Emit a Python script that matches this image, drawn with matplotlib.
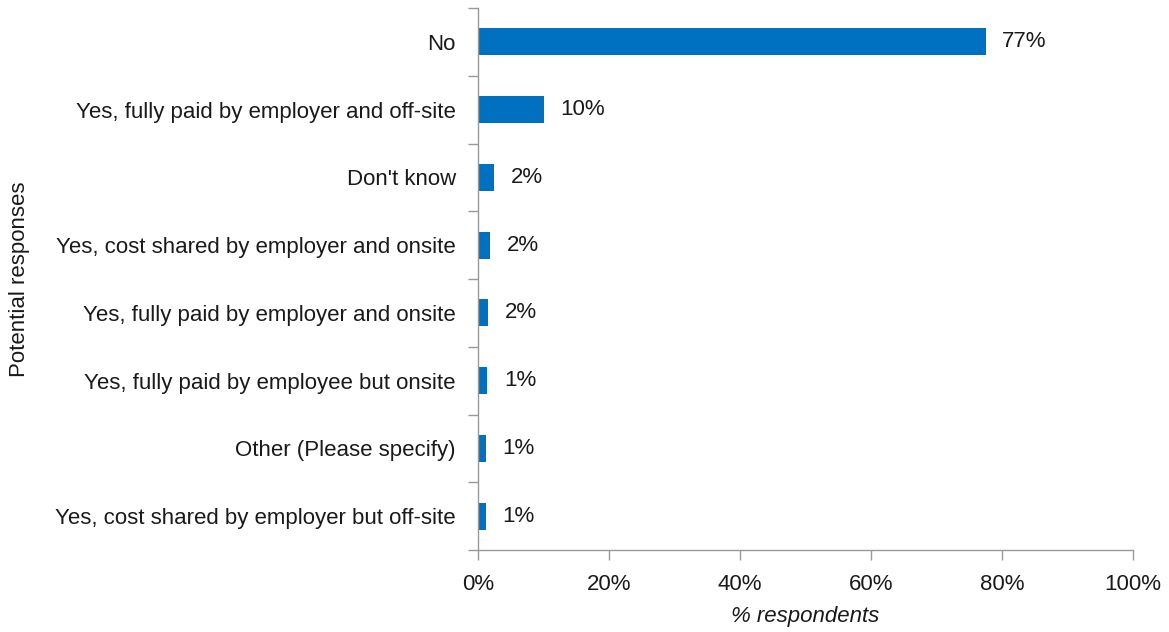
import matplotlib
matplotlib.use("Agg")
import matplotlib.pyplot as plt
from matplotlib import font_manager

categories = [
    "No",
    "Yes, fully paid by employer and off-site",
    "Don't know",
    "Yes, cost shared by employer and onsite",
    "Yes, fully paid by employer and onsite",
    "Yes, fully paid by employee but onsite",
    "Other (Please specify)",
    "Yes, cost shared by employer but off-site",
]
values = [77.5, 10.0, 2.4, 1.8, 1.6, 1.4, 1.2, 1.2]
value_labels = ["77%", "10%", "2%", "2%", "2%", "1%", "1%", "1%"]
xticks = [0, 20, 40, 60, 80, 100]
xticklabels = ["0%", "20%", "40%", "60%", "80%", "100%"]

names = {f.name for f in font_manager.fontManager.ttflist}
fam = "Liberation Sans Narrow" if "Liberation Sans Narrow" in names else "Liberation Sans"
plt.rcParams['font.family'] = [fam, 'DejaVu Sans']

fig = plt.figure(figsize=(11.69, 6.32), dpi=100)
ax = fig.add_axes([478/1169, 1-550/632, (1133-478)/1169, (550-8)/632])

ypos = list(range(len(categories)))
ax.barh(ypos, values, height=0.4, color="#0070C0")
ax.set_ylim(len(categories)-0.5, -0.5)
ax.set_xlim(0, 100)

for y, v, lab in zip(ypos, values, value_labels):
    ax.annotate(lab, (v, y), xytext=(12, 0), textcoords="offset points",
                va="center", ha="left", fontsize=16, color="#1a1a1a")

ax.set_yticks(ypos)
ax.set_yticklabels(categories, fontsize=16, color="#1a1a1a")
ax.set_yticks([i + 0.5 for i in range(-1, len(categories))], minor=True)
ax.tick_params(axis="y", which="major", length=0, pad=16)
ax.tick_params(axis="y", which="minor", length=7, color="#999999", width=1)
ax.set_xticks(xticks)
ax.set_xticklabels(xticklabels, fontsize=16, color="#1a1a1a")
ax.tick_params(axis="x", which="major", length=7, color="#999999", width=1, pad=10)

for s in ["top", "right"]:
    ax.spines[s].set_visible(False)
for s in ["left", "bottom"]:
    ax.spines[s].set_color("#999999")
    ax.spines[s].set_linewidth(1)

ax.set_xlabel("% respondents", fontsize=16, style="italic", labelpad=8, color="#1a1a1a")
fig.text(20/1169, 1-279/632, "Potential responses", rotation=90, fontsize=16,
         ha="center", va="center", color="#1a1a1a")

fig.savefig("out.png", dpi=100)
